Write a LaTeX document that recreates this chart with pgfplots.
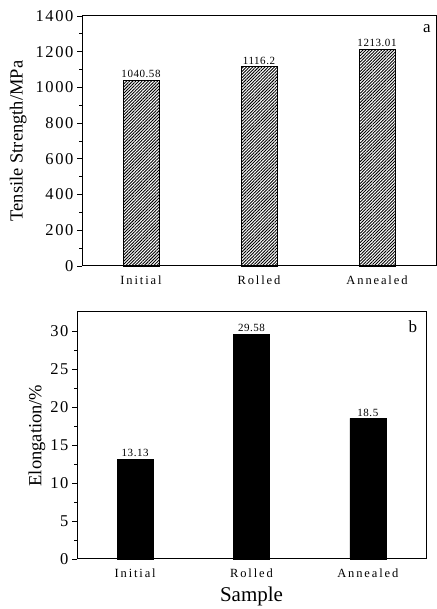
\documentclass[border=0pt]{standalone}
\usepackage{fontspec}
\setmainfont{Liberation Serif}
\usepackage{pgfplots}
\pgfplotsset{compat=1.18}
\usetikzlibrary{patterns.meta}
\newfontfamily\spaced[LetterSpace=15]{Liberation Serif}
\newfontfamily\spacedb[LetterSpace=10]{Liberation Serif}
\begin{document}
\begin{tikzpicture}
\path[use as bounding box] (0pt,0pt) rectangle (436pt,609pt);
\pgfplotsset{
  common/.style={
    scale only axis,
    anchor=south west,
    xmin=-0.5, xmax=2.5,
    xtick={0,1,2},
    xticklabels={Initial,Rolled,Annealed},
    x tick label style={font=\fontsize{12.5}{13}\selectfont\spaced, yshift=-1pt},
    y tick label style={font=\fontsize{16.5}{17}\selectfont\spacedb},
    /pgf/number format/assume math mode=true,
    /pgf/number format/1000 sep={},
    ytick pos=left, xtick pos=bottom,
    major x tick style={draw=none},
    tick align=outside,
    major tick length=5pt, minor tick length=3pt,
    minor y tick num=1,
    axis line style={line width=1pt},
    every tick/.style={black, line width=0.7pt},
    ybar, bar width=36pt,
    nodes near coords,
    point meta=explicit symbolic,
    every node near coord/.append style={font=\fontsize{11}{12}\selectfont\addfontfeature{LetterSpace=5}, black, inner sep=2pt},
    ylabel style={font=\fontsize{18.5}{19}\selectfont},
    clip=false,
  }
}
\begin{axis}[common, at={(82pt,343pt)}, width=354pt, height=250pt,
  ymin=0, ymax=1400, ytick={0,200,...,1400},
  ylabel={Tensile Strength/MPa}, ylabel style={yshift=2pt}]
\addplot[draw=black, line width=0.8pt, pattern={Lines[angle=45,distance=2.2pt,line width=0.9pt]}] coordinates {(0,1040.58)[1040.58] (1,1116.2)[1116.2] (2,1213.01)[1213.01]};
\node[font=\fontsize{17}{18}\selectfont, anchor=north east] at (rel axis cs:0.995,0.98) {a};
\end{axis}
\begin{axis}[common, at={(77pt,50pt)}, width=349pt, height=247pt,
  ymin=0, ymax=32.5, ytick={0,5,...,30},
  ylabel={Elongation/\%}, ylabel style={yshift=-2pt},
  xlabel={Sample}, xlabel style={font=\fontsize{21}{22}\selectfont, yshift=-3pt}]
\addplot[draw=black, fill=black] coordinates {(0,13.13)[13.13] (1,29.58)[29.58] (2,18.5)[18.5]};
\node[font=\fontsize{17}{18}\selectfont, anchor=north east] at (rel axis cs:0.985,0.98) {b};
\end{axis}
\end{tikzpicture}
\end{document}
